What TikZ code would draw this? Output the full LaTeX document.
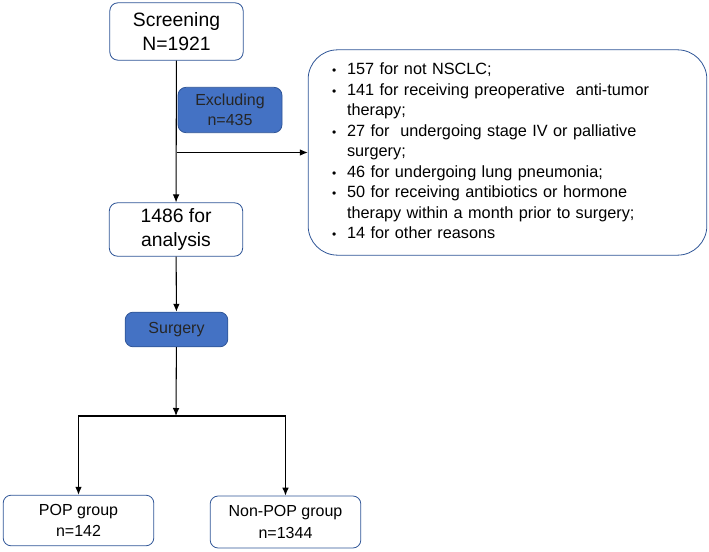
\documentclass[tikz,border=0pt]{standalone}
\usepackage{fontspec}
\setmainfont{Liberation Sans}
\usetikzlibrary{arrows.meta}
\definecolor{boxline}{HTML}{2F5597}
\definecolor{boxfill}{HTML}{4472C4}

\begin{document}
\begin{tikzpicture}[x=0.75pt, y=-0.75pt, >={Latex[length=6pt,width=5pt]},
  default/.style={draw=boxline, semithick, fill=white, rounded corners=6pt, align=center, inner sep=0pt},
  bluebox/.style={default, fill=boxfill, text=black!85},
  flow/.style={draw=black, line width=0.8pt, ->}]
\useasboundingbox (0,0) rectangle (709,552);
\node[default, minimum width=100pt, minimum height=43pt, font=\fontsize{14.5}{18.5}\selectfont] (screen) at (176.5,31.5) {Screening\\N=1921};
\node[bluebox, minimum width=78pt, minimum height=34pt, font=\fontsize{12}{15}\selectfont] (excl) at (230,110) {Excluding\\n=435};
\node[default, rounded corners=22pt, minimum width=299pt, minimum height=154pt, text width=263pt, inner xsep=18pt, align=left, font=\fontsize{12.2}{15.4}\selectfont] (reasons) at (507.5,152.5) {%
\begin{tabular}{@{}l@{\hspace{8pt}}l@{}}
{\small\textbullet} & 157 for not NSCLC;\\
{\small\textbullet} & 141 for receiving preoperative\ \ anti-tumor\\
 & therapy;\\
{\small\textbullet} & 27 for\ \ undergoing stage IV or palliative\\
 & surgery;\\
{\small\textbullet} & 46 for undergoing lung pneumonia;\\
{\small\textbullet} & 50 for receiving antibiotics or hormone\\
 & therapy within a month prior to surgery;\\
{\small\textbullet} & 14 for other reasons
\end{tabular}};
\node[default, minimum width=100pt, minimum height=40pt, font=\fontsize{14.5}{17.5}\selectfont] (analysis) at (176,229.5) {1486 for\\analysis};
\node[bluebox, minimum width=77pt, minimum height=26pt, font=\fontsize{12}{15}\selectfont] (surgery) at (176.5,329.5) {Surgery};
\node[default, minimum width=113pt, minimum height=38pt, font=\fontsize{12}{16}\selectfont] (pop) at (78.5,520.5) {POP group\\n=142};
\node[default, minimum width=113pt, minimum height=39pt, font=\fontsize{12}{16}\selectfont] (nonpop) at (285.5,522) {Non-POP group\\n=1344};
\coordinate (branch) at (screen.south |- reasons.west);
\coordinate (split) at (176,416);
\draw [flow] (screen) -- (analysis);
\draw [flow] (branch) -- (reasons);
\draw [flow] (analysis) -- (surgery);
\draw [flow] (surgery) -- (split);
\draw [flow] (split) -| (pop);
\draw [flow] (split) -| (nonpop);
\end{tikzpicture}
\end{document}
